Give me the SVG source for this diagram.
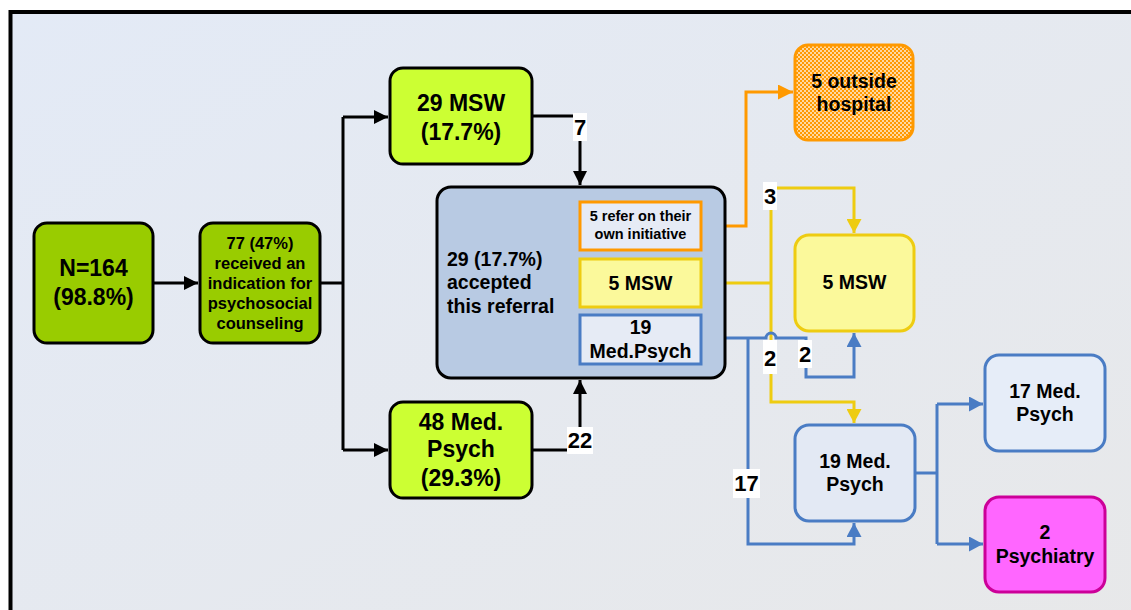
<svg xmlns="http://www.w3.org/2000/svg" width="1131" height="610" viewBox="0 0 1131 610">
<defs>
<linearGradient id="bg" x1="0" y1="0" x2="1" y2="1">
<stop offset="0" stop-color="#e3eaf6"/>
<stop offset="1" stop-color="#e8e8e8"/>
</linearGradient>
<pattern id="checker" width="4" height="4" patternUnits="userSpaceOnUse">
<rect width="4" height="4" fill="#ffd8a0"/>
<rect width="2" height="2" fill="#ff9900"/>
<rect x="2" y="2" width="2" height="2" fill="#ff9900"/>
</pattern>
<marker id="ab" markerWidth="14" markerHeight="14" refX="14" refY="7" orient="auto" markerUnits="userSpaceOnUse"><path d="M0,0 L14,7 L0,14 z" fill="#000"/></marker>
<marker id="ay" markerWidth="15" markerHeight="15" refX="14" refY="7.5" orient="auto" markerUnits="userSpaceOnUse"><path d="M0,0 L14,7.5 L0,15 z" fill="#eecc11"/></marker>
<marker id="abl" markerWidth="15" markerHeight="15" refX="14" refY="7.5" orient="auto" markerUnits="userSpaceOnUse"><path d="M0,0 L14,7.5 L0,15 z" fill="#4a7cc4"/></marker>
<marker id="ao" markerWidth="15" markerHeight="15" refX="15" refY="7.5" orient="auto" markerUnits="userSpaceOnUse"><path d="M0,0 L15,7.5 L0,15 z" fill="#ff9900"/></marker>
</defs>
<style>
text{font-family:"Liberation Sans",Arial,sans-serif;font-weight:bold;fill:#000;text-anchor:middle}
.big{font-size:23px}
.mid{font-size:19.5px}
.sm{font-size:16.5px}
.xs{font-size:14.5px}
.lbl{font-size:22px}
.node{stroke-width:3}
.c{fill:none;stroke-width:3}
.k{stroke:#000}
.y{stroke:#eecc11}
.b{stroke:#4a7cc4}
.o{stroke:#ff9900}
</style>
<rect x="0" y="0" width="1131" height="610" fill="#ffffff"/>
<rect x="10.5" y="12" width="1200" height="700" fill="url(#bg)" stroke="#000" stroke-width="4"/>

<g id="connectors">
<path class="c k" d="M153,283 H198" marker-end="url(#ab)"/>
<path class="c k" d="M320,283 H343"/>
<path class="c k" d="M343,117 V450"/>
<path class="c k" d="M343,117 H388" marker-end="url(#ab)"/>
<path class="c k" d="M343,450 H388" marker-end="url(#ab)"/>
<path class="c k" d="M532,116 H580 V185" marker-end="url(#ab)"/>
<path class="c k" d="M532,450 H580 V380" marker-end="url(#ab)"/>
<path class="c o" d="M701,226 H746 V92 H793" marker-end="url(#ao)"/>
<path class="c y" d="M701,283 H771"/>
<path class="c y" d="M771,188 H854 V233" marker-end="url(#ay)"/>
<path class="c y" d="M771,188 V402 H854 V423" marker-end="url(#ay)"/>
<path class="c b" d="M701,338 H766 A5,5 0 0 1 776,338 H806 V377 H854 V333" marker-end="url(#abl)"/>
<path class="c b" d="M748,338 V544 H854 V523" marker-end="url(#abl)"/>
<path class="c b" d="M915,473 H937"/>
<path class="c b" d="M937,404 V544"/>
<path class="c b" d="M937,404 H983" marker-end="url(#abl)"/>
<path class="c b" d="M937,544 H983" marker-end="url(#abl)"/>
<g id="labels">
<rect x="573" y="113" width="14" height="28" fill="#fff"/><text class="lbl" x="580" y="135">7</text>
<rect x="567" y="427" width="26" height="27" fill="#fff"/><text class="lbl" x="580" y="448">22</text>
<rect x="763" y="182" width="14" height="28" fill="#fff"/><text class="lbl" x="770" y="204">3</text>
<rect x="763" y="340" width="14" height="34" fill="#fff"/><text class="lbl" x="770" y="366">2</text>
<rect x="798" y="340" width="14" height="28" fill="#fff"/><text class="lbl" x="805" y="362">2</text>
<rect x="733" y="469" width="27" height="29" fill="#fff"/><text class="lbl" x="746.5" y="491">17</text>
</g>
</g>

<g id="n164">
<rect class="node" x="34" y="223" width="119" height="120" rx="13" fill="#99cc00" stroke="#000"/>
<text class="big" x="93.5" y="276">N=164</text>
<text class="big" x="93.5" y="305">(98.8%)</text>
</g>
<g id="n77">
<rect class="node" x="200" y="223" width="120" height="120" rx="13" fill="#99cc00" stroke="#000"/>
<text class="sm" x="260" y="249">77 (47%)</text>
<text class="sm" x="260" y="269">received an</text>
<text class="sm" x="260" y="289">indication for</text>
<text class="sm" x="260" y="309">psychosocial</text>
<text class="sm" x="260" y="329">counseling</text>
</g>
<g id="msw29">
<rect class="node" x="390" y="68" width="142" height="96" rx="13" fill="#ccff33" stroke="#000"/>
<text class="big" x="461" y="111">29 MSW</text>
<text class="big" x="461" y="140">(17.7%)</text>
</g>
<g id="med48">
<rect class="node" x="390" y="402" width="142" height="96" rx="13" fill="#ccff33" stroke="#000"/>
<text class="big" x="461" y="430">48 Med.</text>
<text class="big" x="461" y="457">Psych</text>
<text class="big" x="461" y="486">(29.3%)</text>
</g>
<g id="accepted">
<rect class="node" x="437" y="187" width="288" height="191" rx="14" fill="#b8cae3" stroke="#000"/>
<text class="mid" x="447" y="266" style="text-anchor:start">29 (17.7%)</text>
<text class="mid" x="447" y="289" style="text-anchor:start">accepted</text>
<text class="mid" x="447" y="313" style="text-anchor:start">this referral</text>
</g>
<g id="refer5">
<rect class="node" x="580" y="202" width="121" height="48" fill="#e6ebf5" stroke="#ff9900"/>
<text class="xs" x="640.5" y="221">5 refer on their</text>
<text class="xs" x="640.5" y="239">own initiative</text>
</g>
<g id="msw5inner">
<rect class="node" x="580" y="259" width="121" height="48" fill="#fbf99b" stroke="#eecc11"/>
<text class="mid" x="640.5" y="290">5 MSW</text>
</g>
<g id="med19inner">
<rect class="node" x="580" y="315" width="121" height="49" fill="#e6ebf5" stroke="#4a7cc4"/>
<text class="mid" x="640.5" y="334">19</text>
<text class="mid" x="640.5" y="358">Med.Psych</text>
</g>
<g id="hospital">
<rect class="node" x="795" y="45" width="118" height="95" rx="13" fill="url(#checker)" stroke="#ff9900"/>
<text class="mid" x="854" y="88">5 outside</text>
<text class="mid" x="854" y="111">hospital</text>
</g>
<g id="msw5">
<rect class="node" x="795" y="235" width="119" height="96" rx="14" fill="#fbf99b" stroke="#eecc11"/>
<text class="mid" x="854.5" y="289">5 MSW</text>
</g>
<g id="med19">
<rect class="node" x="795" y="425" width="120" height="96" rx="14" fill="#e3e9f4" stroke="#4a7cc4"/>
<text class="mid" x="855" y="468">19 Med.</text>
<text class="mid" x="855" y="491">Psych</text>
</g>
<g id="med17">
<rect class="node" x="985" y="355" width="120" height="96" rx="14" fill="#e6edf8" stroke="#4a7cc4"/>
<text class="mid" x="1045" y="398">17 Med.</text>
<text class="mid" x="1045" y="421">Psych</text>
</g>
<g id="psychiatry">
<rect class="node" x="985" y="497" width="120" height="95" rx="14" fill="#ff66ff" stroke="#cc0099"/>
<text class="mid" x="1045" y="539">2</text>
<text class="mid" x="1045" y="563">Psychiatry</text>
</g>
</svg>
